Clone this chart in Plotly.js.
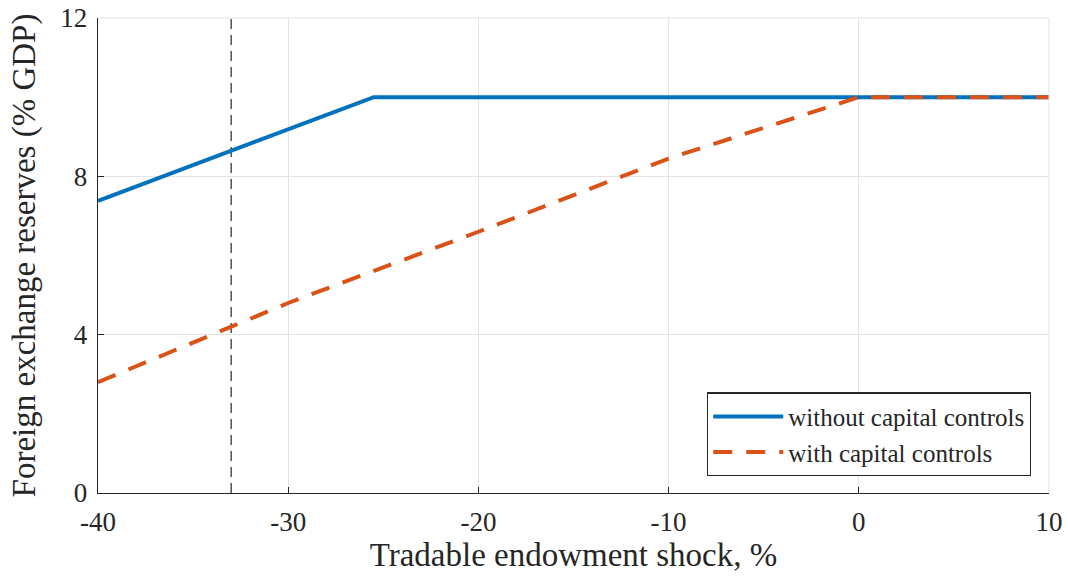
<!DOCTYPE html>
<html>
<head>
<meta charset="utf-8">
<script src="https://cdn.plot.ly/plotly-3.0.1.min.js"></script>
<style>html,body{margin:0;padding:0;background:#fff;}#chart{width:1067px;height:576px;}</style>
</head>
<body>
<div id="chart"></div>
<script>
// Data
const shockNoCC = [-40, -25.5, 10];
const reservesNoCC = [7.38, 10, 10];
const shockCC = [-40, -30, -20, -10, 0, 10];
const reservesCC = [2.8, 4.8, 6.6, 8.45, 10, 10];
const thresholdX = [-33, -33];
const thresholdY = [0, 12];
const xTicks = [-40, -30, -20, -10, 0, 10];
const yTicks = [0, 4, 8, 12];

const FONT = '"Liberation Serif", "DejaVu Serif", serif';

const traces = [
  {x: thresholdX, y: thresholdY, mode: 'lines', showlegend: false,
   line: {color: '#222', width: 1.2, dash: '10px,6px'}, hoverinfo: 'skip'},
  {x: shockNoCC, y: reservesNoCC, mode: 'lines', name: 'without capital controls',
   line: {color: '#0072BD', width: 4}},
  {x: shockCC, y: reservesCC, mode: 'lines', name: 'with capital controls',
   line: {color: '#D95319', width: 4, dash: '19px,14px'}}
];

const layout = {
  width: 1067, height: 576,
  paper_bgcolor: '#fff', plot_bgcolor: '#fff',
  margin: {l: 98, r: 18, t: 18, b: 83},
  font: {family: FONT, size: 26, color: '#262626'},
  showlegend: true,
  legend: {x: 0.981, y: 0.035, xanchor: 'right', yanchor: 'bottom',
    bgcolor: '#fff', bordercolor: '#262626', borderwidth: 1.3,
    font: {family: FONT, size: 25, color: '#262626'},
    tracegroupgap: 0, itemwidth: 70},
  xaxis: {range: [-40, 10], tickvals: xTicks, ticktext: xTicks.map(String),
    showgrid: true, gridcolor: '#e3e3e3', gridwidth: 1,
    zeroline: false, showline: true, linecolor: '#262626', linewidth: 1.3,
    ticks: 'inside', ticklen: 6, tickcolor: '#262626', tickwidth: 1.3,
    ticklabelstandoff: 4,
    tickfont: {family: FONT, size: 27, color: '#262626'},
    title: {text: 'Tradable endowment shock, %', font: {family: FONT, size: 33, color: '#262626'}, standoff: 6},
    mirror: false},
  yaxis: {range: [0, 12], tickvals: yTicks, ticktext: yTicks.map(String),
    showgrid: true, gridcolor: '#e3e3e3', gridwidth: 1,
    zeroline: false, showline: true, linecolor: '#262626', linewidth: 1.3,
    ticks: 'inside', ticklen: 6, tickcolor: '#262626', tickwidth: 1.3,
    ticklabelstandoff: 4,
    tickfont: {family: FONT, size: 27, color: '#262626'},
    title: {text: 'Foreign exchange reserves (% GDP)', font: {family: FONT, size: 33, color: '#262626'}, standoff: 14}},
  shapes: [
    {type: 'line', xref: 'paper', yref: 'paper', x0: 0, x1: 1, y0: 1, y1: 1, line: {color: '#e3e3e3', width: 1}},
    {type: 'line', xref: 'paper', yref: 'paper', x0: 1, x1: 1, y0: 0, y1: 1, line: {color: '#e3e3e3', width: 1}}
  ]
};

Plotly.newPlot('chart', traces, layout, {displayModeBar: false, staticPlot: true});
</script>
</body>
</html>
